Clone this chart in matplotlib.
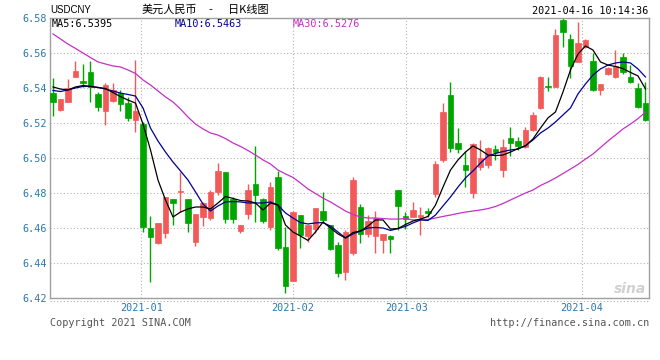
import numpy as np
import matplotlib
matplotlib.use("Agg")
import matplotlib.pyplot as plt
from matplotlib.lines import Line2D

# daily candles, USD/CNY
opens = [6.5370, 6.5274, 6.5322, 6.5465, 6.5440, 6.5490, 6.5366, 6.5270, 6.5327, 6.5370,
         6.5316, 6.5217, 6.5194, 6.4598, 6.4512, 6.4573, 6.4766, 6.4805, 6.4764, 6.4522,
         6.4665, 6.4659, 6.4808, 6.4918, 6.4767, 6.4585, 6.4678, 6.4849, 6.4766, 6.4607,
         6.4893, 6.4493, 6.4300, 6.4674, 6.4554, 6.4593, 6.4699, 6.4617, 6.4503, 6.4350,
         6.4459, 6.4722, 6.4566, 6.4554, 6.4531, 6.4556, 6.4817, 6.4667, 6.4665, 6.4665,
         6.4697, 6.4793, 6.4989, 6.5360, 6.5084, 6.4960, 6.4802, 6.4947, 6.4960, 6.5051,
         6.4931, 6.5112, 6.5097, 6.5061, 6.5160, 6.5287, 6.5411, 6.5407, 6.5789, 6.5680,
         6.5550, 6.5636, 6.5554, 6.5389, 6.5478, 6.5465, 6.5579, 6.5465, 6.5398, 6.5313]
highs = [6.5455, 6.5340, 6.5450, 6.5556, 6.5537, 6.5554, 6.5379, 6.5427, 6.5430, 6.5389,
         6.5350, 6.5560, 6.5207, 6.4669, 6.4630, 6.4780, 6.4768, 6.4922, 6.4766, 6.4682,
         6.4750, 6.4817, 6.4970, 6.4920, 6.4779, 6.4619, 6.4851, 6.5069, 6.4770, 6.4865,
         6.4927, 6.4607, 6.4695, 6.4676, 6.4620, 6.4715, 6.4808, 6.4620, 6.4522, 6.4589,
         6.4890, 6.4737, 6.4674, 6.4697, 6.4568, 6.4558, 6.4820, 6.4693, 6.4750, 6.4722,
         6.4713, 6.4983, 6.5316, 6.5436, 6.5170, 6.5040, 6.5084, 6.5103, 6.5061, 6.5074,
         6.5109, 6.5175, 6.5122, 6.5179, 6.5261, 6.5470, 6.5465, 6.5737, 6.5800, 6.5709,
         6.5775, 6.5680, 6.5598, 6.5425, 6.5522, 6.5617, 6.5598, 6.5531, 6.5427, 6.5436]
lows = [6.5239, 6.5270, 6.5320, 6.5463, 6.5407, 6.5322, 6.5270, 6.5189, 6.5320, 6.5270,
        6.5211, 6.5150, 6.4579, 6.4293, 6.4510, 6.4545, 6.4617, 6.4693, 6.4579, 6.4497,
        6.4611, 6.4646, 6.4789, 6.4627, 6.4627, 6.4573, 6.4651, 6.4634, 6.4627, 6.4589,
        6.4475, 6.4227, 6.4298, 6.4484, 6.4522, 6.4570, 6.4630, 6.4475, 6.4318, 6.4303,
        6.4446, 6.4512, 6.4550, 6.4455, 6.4455, 6.4455, 6.4589, 6.4592, 6.4663, 6.4560,
        6.4665, 6.4779, 6.4975, 6.5036, 6.5027, 6.4836, 6.4770, 6.4931, 6.4943, 6.4989,
        6.4893, 6.5013, 6.5046, 6.5058, 6.5155, 6.5280, 6.5383, 6.5405, 6.5636, 6.5459,
        6.5548, 6.5630, 6.5385, 6.5360, 6.5475, 6.5460, 6.5480, 6.5430, 6.5284, 6.5210]
closes = [6.5322, 6.5337, 6.5398, 6.5499, 6.5427, 6.5407, 6.5293, 6.5417, 6.5389, 6.5307,
          6.5227, 6.5270, 6.4607, 6.4550, 6.4627, 6.4779, 6.4741, 6.4810, 6.4627, 6.4680,
          6.4745, 6.4808, 6.4926, 6.4651, 6.4651, 6.4617, 6.4817, 6.4791, 6.4640, 6.4836,
          6.4484, 6.4270, 6.4693, 6.4560, 6.4617, 6.4713, 6.4646, 6.4478, 6.4341, 6.4579,
          6.4874, 6.4566, 6.4640, 6.4659, 6.4566, 6.4537, 6.4727, 6.4651, 6.4703, 6.4674,
          6.4684, 6.4966, 6.5261, 6.5059, 6.5050, 6.4931, 6.5078, 6.4998, 6.5055, 6.5036,
          6.5061, 6.5084, 6.5070, 6.5160, 6.5246, 6.5465, 6.5407, 6.5703, 6.5718, 6.5527,
          6.5655, 6.5674, 6.5389, 6.5423, 6.5513, 6.5526, 6.5490, 6.5436, 6.5293, 6.5217]

# moving averages as drawn on the chart
ma5 = [6.5406, 6.5394, 6.5389, 6.5406, 6.5414, 6.5409, 6.5403, 6.5397, 6.5374, 6.5351,
       6.5331, 6.5314, 6.5194, 6.5046, 6.4874, 6.4760, 6.4663, 6.4691, 6.4709, 6.4720,
       6.4720, 6.4709, 6.4743, 6.4780, 6.4769, 6.4757, 6.4754, 6.4743, 6.4703, 6.4743,
       6.4731, 6.4617, 6.4577, 6.4554, 6.4529, 6.4577, 6.4634, 6.4600, 6.4566, 6.4543,
       6.4574, 6.4583, 6.4611, 6.4646, 6.4646, 6.4594, 6.4597, 6.4620, 6.4640, 6.4651,
       6.4666, 6.4731, 6.4834, 6.4931, 6.4989, 6.5034, 6.5069, 6.5046, 6.5017, 6.5014,
       6.5017, 6.5034, 6.5054, 6.5069, 6.5109, 6.5171, 6.5229, 6.5263, 6.5377, 6.5503,
       6.5594, 6.5640, 6.5617, 6.5549, 6.5531, 6.5523, 6.5511, 6.5489, 6.5469, 6.5395]
ma10 = [6.5386, 6.5380, 6.5389, 6.5400, 6.5409, 6.5409, 6.5403, 6.5394, 6.5383, 6.5371,
        6.5363, 6.5354, 6.5286, 6.5171, 6.5097, 6.5034, 6.4977, 6.4926, 6.4874, 6.4806,
        6.4737, 6.4697, 6.4726, 6.4749, 6.4751, 6.4749, 6.4743, 6.4743, 6.4743, 6.4749,
        6.4731, 6.4686, 6.4657, 6.4631, 6.4623, 6.4629, 6.4631, 6.4611, 6.4577, 6.4543,
        6.4566, 6.4583, 6.4600, 6.4603, 6.4600, 6.4586, 6.4597, 6.4609, 6.4629, 6.4646,
        6.4643, 6.4674, 6.4726, 6.4777, 6.4834, 6.4886, 6.4926, 6.4971, 6.5011, 6.5026,
        6.5037, 6.5046, 6.5051, 6.5071, 6.5103, 6.5143, 6.5171, 6.5206, 6.5246, 6.5286,
        6.5366, 6.5423, 6.5474, 6.5509, 6.5531, 6.5543, 6.5549, 6.5543, 6.5509, 6.5463]
ma30 = [6.5709, 6.5680, 6.5651, 6.5626, 6.5600, 6.5574, 6.5549, 6.5537, 6.5526, 6.5520,
        6.5503, 6.5483, 6.5446, 6.5417, 6.5383, 6.5349, 6.5320, 6.5280, 6.5234, 6.5194,
        6.5166, 6.5143, 6.5131, 6.5111, 6.5086, 6.5066, 6.5043, 6.5017, 6.4989, 6.4966,
        6.4931, 6.4909, 6.4889, 6.4857, 6.4823, 6.4797, 6.4771, 6.4749, 6.4723, 6.4697,
        6.4677, 6.4663, 6.4657, 6.4657, 6.4654, 6.4651, 6.4651, 6.4654, 6.4646, 6.4649,
        6.4649, 6.4657, 6.4666, 6.4674, 6.4683, 6.4691, 6.4697, 6.4703, 6.4711, 6.4723,
        6.4740, 6.4760, 6.4780, 6.4800, 6.4817, 6.4843, 6.4863, 6.4886, 6.4911, 6.4937,
        6.4963, 6.4994, 6.5023, 6.5060, 6.5097, 6.5131, 6.5166, 6.5194, 6.5225, 6.5262]

month_labels = ["2021-01", "2021-02", "2021-03", "2021-04"]
month_pos = [11.8, 32.0, 47.1, 70.5]
yticks = [6.42, 6.44, 6.46, 6.48, 6.50, 6.52, 6.54, 6.56, 6.58]

RED = "#f25a5a"
GREEN = "#00a600"
LBL = "#2a78b0"
mono = "DejaVu Sans Mono"

W, H = 660, 360
fig = plt.figure(figsize=(6.6, 3.6), dpi=100)
ax = fig.add_axes([50 / W, 62 / H, 599 / W, 280 / H])

o = np.array(opens)
c = np.array(closes)
x = np.arange(len(o))
cols = [RED if cc >= oo else GREEN for oo, cc in zip(o, c)]

ax.vlines(x, lows, highs, colors=cols, linewidth=1.0, zorder=2)
ax.bar(x, np.abs(c - o), bottom=np.minimum(o, c), width=0.72, color=cols,
       edgecolor=cols, linewidth=0.5, zorder=3)

ax.plot(x, ma30, color="#c430c4", lw=0.9, zorder=4)
ax.plot(x, ma10, color="#000090", lw=0.9, zorder=5)
ax.plot(x, ma5, color="black", lw=0.9, zorder=6)

ax.set_xlim(-0.4, 79.47)
ax.set_ylim(6.42, 6.58)
ax.set_yticks(yticks)
ax.set_yticklabels(["%.2f" % v for v in yticks], fontsize=7.3, family=mono, color=LBL)
ax.set_xticks(month_pos)
ax.set_xticklabels(month_labels, fontsize=7.3, family=mono, color=LBL)
ax.tick_params(length=0, axis="y", pad=2.5)
ax.tick_params(length=0, axis="x", pad=3.5)
ax.grid(True, color="#b4b4b4", linestyle=(0, (1, 2)), linewidth=0.8, zorder=0)
ax.set_axisbelow(True)
for s in ax.spines.values():
    s.set_color("#a0a0a0")
    s.set_linewidth(1.0)

# dotted rule under the x axis
fig.add_artist(Line2D([50 / W, 649 / W], [1 - 300.5 / H] * 2, color="#b4b4b4",
                      linestyle=(0, (1, 2)), linewidth=0.8))

def ftext(px, py, s, **kw):
    fig.text(px / W, 1 - py / H, s, **kw)

ftext(50, 10, "USDCNY", fontsize=7, family="Liberation Sans", va="center")
cjk = ["Noto Sans CJK SC", "DejaVu Sans"]
ftext(142, 10, "美元人民币", fontsize=8, family=cjk, va="center")
ftext(210.5, 10, "-", fontsize=8, family=cjk, va="center", ha="center")
ftext(228, 10, "日K线图", fontsize=8, family=cjk, va="center")
ftext(648, 11.5, "2021-04-16 10:14:36", fontsize=7.3, family=mono, va="center", ha="right")

ftext(52, 24, "MA5:%.4f" % ma5[-1], fontsize=7.3, family=mono, va="center", color="black")
ftext(175, 24, "MA10:%.4f" % ma10[-1], fontsize=7.3, family=mono, va="center", color="#000090")
ftext(293, 24, "MA30:6.5276", fontsize=7.3, family=mono, va="center", color="#c430c4")

ftext(50, 323.5, "Copyright 2021 SINA.COM", fontsize=7.3, family=mono, va="center", color="#555555")
ftext(649, 323.5, "http://finance.sina.com.cn", fontsize=7.3, family=mono, va="center",
      ha="right", color="#555555")
ftext(630, 289, "sina", fontsize=10, fontweight="bold", style="italic", va="center",
      ha="center", color="#d0d0d0")

fig.savefig("out.png", dpi=100, facecolor="white")
